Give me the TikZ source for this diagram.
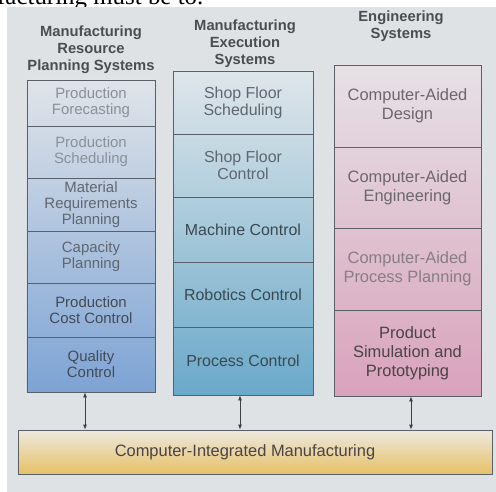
\documentclass[tikz,border=0pt]{standalone}
\usepackage{fontspec}
\setmainfont{Liberation Sans}
\newfontfamily\serifface{Liberation Serif}
\usetikzlibrary{arrows.meta}
\definecolor{paper}{HTML}{DFE2E5}
\definecolor{boxline}{HTML}{5A6068}
\definecolor{headc}{HTML}{4A4D52}
\definecolor{cAtop}{HTML}{E0E4E9}
\definecolor{cAbot}{HTML}{7DA3D4}
\definecolor{cBtop}{HTML}{DFE6EA}
\definecolor{cBbot}{HTML}{6AA9C9}
\definecolor{cCtop}{HTML}{E6E1E5}
\definecolor{cCbot}{HTML}{D9A2BC}
\definecolor{barTop}{HTML}{EDE9DF}
\definecolor{barBot}{HTML}{E6C166}
\definecolor{txlight}{HTML}{8A9099}
\definecolor{txmid}{HTML}{60666F}
\definecolor{txdark}{HTML}{434A56}
\definecolor{txBdark}{HTML}{3A4852}
\definecolor{txC}{HTML}{6C676C}
\definecolor{txClight}{HTML}{857F83}
\definecolor{txCdark}{HTML}{4A4348}
\definecolor{arrowc}{HTML}{3C3F44}
\begin{document}
\begin{tikzpicture}[x=1bp,y=-1bp,
  header/.style={align=center, inner sep=0pt, text=headc,
    font=\bfseries\fontsize{14.8}{17}\selectfont},
  colbg/.style={draw=none, inner sep=0pt},
  stagebox/.style={draw=boxline, line width=0.8bp, inner sep=0pt, align=center},
  colA/.style={stagebox, minimum width=128bp, font=\fontsize{15}{16}\selectfont},
  colB/.style={stagebox, minimum width=140bp, font=\fontsize{16}{17}\selectfont},
  colC/.style={stagebox, minimum width=147bp, font=\fontsize{16.5}{19}\selectfont},
  link/.style={{Latex[length=5bp,width=4bp]}-{Latex[length=5bp,width=4bp]},
    draw=arrowc, line width=0.8bp}]
\useasboundingbox (0,0) rectangle (496,492);
\fill[white] (0,0) rectangle (496,492);
\node[anchor=base west, inner sep=0pt, font=\serifface\fontsize{25}{25}\selectfont] (prev) at (-3,5) {facturing must be to.};
\fill[paper] (7,7) rectangle (496,492);

% headers
\node[header] (hA) at (91,50) {Manufacturing\\Resource\\Planning Systems};
\node[header] (hB) at (245,43.5) {Manufacturing\\Execution\\Systems};
\node[header] (hC) at (401,26.5) {Engineering\\Systems};

% column backgrounds
\node[colbg, top color=cAtop, bottom color=cAbot, minimum width=128bp, minimum height=312bp] (bgA) at (91,236) {};
\node[colbg, top color=cBtop, bottom color=cBbot, minimum width=140bp, minimum height=324bp] (bgB) at (243,233) {};
\node[colbg, top color=cCtop, bottom color=cCbot, minimum width=147bp, minimum height=331bp] (bgC) at (407.5,230.5) {};

% column A
\node[colA, minimum height=46bp, text=txlight] (a1) at (91,103) {Production\\Forecasting};
\node[colA, minimum height=52bp, text=txlight] (a2) at (91,152) {Production\\Scheduling};
\node[colA, minimum height=53bp, text=txmid] (a3) at (91,204.5) {Material\\Requirements\\Planning};
\node[colA, minimum height=52bp, text=txmid] (a4) at (91,257) {Capacity\\Planning};
\node[colA, minimum height=54bp, text=txdark] (a5) at (91,310) {Production\\Cost Control};
\node[colA, minimum height=55bp, text=txdark] (a6) at (91,364.5) {Quality\\Control};

% column B
\node[colB, minimum height=63bp, text=txmid] (b1) at (243,102.5) {Shop Floor\\Scheduling};
\node[colB, minimum height=63bp, text=txmid] (b2) at (243,165.5) {Shop Floor\\Control};
\node[colB, minimum height=65bp, text=txBdark] (b3) at (243,229.5) {Machine Control};
\node[colB, minimum height=65bp, text=txBdark] (b4) at (243,294.5) {Robotics Control};
\node[colB, minimum height=68bp, text=txBdark] (b5) at (243,361) {Process Control};

% column C
\node[colC, minimum height=82bp, text=txC] (c1) at (407.5,106) {Computer-Aided\\Design};
\node[colC, minimum height=81bp, text=txC] (c2) at (407.5,187.5) {Computer-Aided\\Engineering};
\node[colC, minimum height=82bp, text=txClight] (c3) at (407.5,269) {Computer-Aided\\Process Planning};
\node[colC, minimum height=86bp, text=txCdark] (c4) at (407.5,353) {Product\\Simulation and\\Prototyping};

% bottom bar
\node[stagebox, top color=barTop, bottom color=barBot, minimum width=474bp, minimum height=44bp,
  text=txCdark, font=\fontsize{16.5}{18}\selectfont] (cim) at (255,452) {Computer-Integrated Manufacturing\hspace*{20bp}};

% links
\coordinate (xA) at (85,0);
\coordinate (xB) at (240,0);
\coordinate (xC) at (411,0);
\draw[link] (a6.south -| xA) -- (cim.north -| xA);
\draw[link] (b5.south -| xB) -- (cim.north -| xB);
\draw[link] (c4.south -| xC) -- (cim.north -| xC);
\end{tikzpicture}
\end{document}
